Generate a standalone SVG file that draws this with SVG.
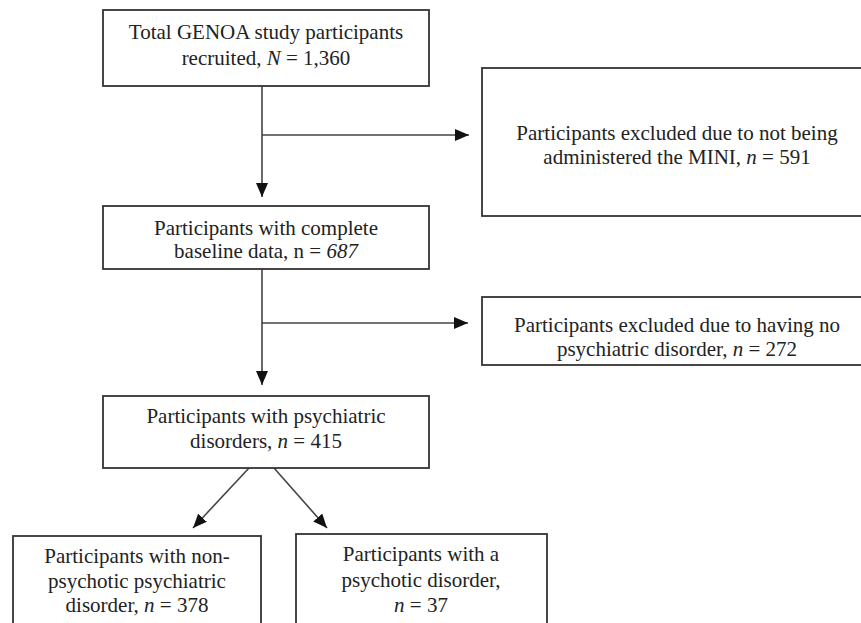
<svg xmlns="http://www.w3.org/2000/svg" width="861" height="623" viewBox="0 0 861 623">
<defs>
<marker id="ah" viewBox="0 0 14 12" markerWidth="14" markerHeight="12" refX="14" refY="6" orient="auto" markerUnits="userSpaceOnUse">
<path d="M0,0 L14,6 L0,12 z" fill="#111"/>
</marker>
<style>
.box{fill:#fff;stroke:#333;stroke-width:1.8}
.t{font-family:"Liberation Serif","Times New Roman",serif;font-size:21px;fill:#222;text-anchor:middle}
.i{font-style:italic}
.c{stroke:#444;stroke-width:1.6;fill:none}
.ca{stroke:#444;stroke-width:1.6;fill:none;marker-end:url(#ah)}
</style>
</defs>
<rect width="861" height="623" fill="#fff"/>
<g id="connectors">
<line class="ca" x1="262" y1="86" x2="262" y2="197"/>
<line class="ca" x1="262" y1="135" x2="469" y2="135"/>
<line class="ca" x1="262" y1="269" x2="262" y2="385"/>
<line class="ca" x1="262" y1="323" x2="468" y2="323"/>
<line class="ca" x1="249" y1="468" x2="193" y2="528"/>
<line class="ca" x1="274" y1="468" x2="327" y2="528"/>
</g>
<g id="n1">
<rect class="box" x="103" y="10" width="326" height="76"/>
<text class="t" x="266" y="39">Total GENOA study participants</text>
<text class="t" x="266" y="65">recruited, <tspan class="i">N</tspan> = 1,360</text>
</g>
<g id="n2">
<rect class="box" x="482" y="68" width="392" height="148"/>
<text class="t" x="677" y="140">Participants excluded due to not being</text>
<text class="t" x="677" y="164">administered the MINI, <tspan class="i">n</tspan> = 591</text>
</g>
<g id="n3">
<rect class="box" x="103" y="206" width="326" height="63"/>
<text class="t" x="266" y="235">Participants with complete</text>
<text class="t" x="266" y="258">baseline data, n = <tspan class="i">687</tspan></text>
</g>
<g id="n4">
<rect class="box" x="482" y="297" width="392" height="68"/>
<text class="t" x="677" y="332">Participants excluded due to having no</text>
<text class="t" x="677" y="356">psychiatric disorder, <tspan class="i">n</tspan> = 272</text>
</g>
<g id="n5">
<rect class="box" x="103" y="396" width="326" height="72"/>
<text class="t" x="266" y="423">Participants with psychiatric</text>
<text class="t" x="266" y="448">disorders, <tspan class="i">n</tspan> = 415</text>
</g>
<g id="n6">
<rect class="box" x="13" y="536" width="248" height="100"/>
<text class="t" x="137" y="563">Participants with non-</text>
<text class="t" x="137" y="588">psychotic psychiatric</text>
<text class="t" x="137" y="612">disorder, <tspan class="i">n</tspan> = 378</text>
</g>
<g id="n7">
<rect class="box" x="296" y="534" width="251" height="100"/>
<text class="t" x="421" y="561">Participants with a</text>
<text class="t" x="421" y="587">psychotic disorder,</text>
<text class="t" x="421" y="612"><tspan class="i">n</tspan> = 37</text>
</g>
</svg>
